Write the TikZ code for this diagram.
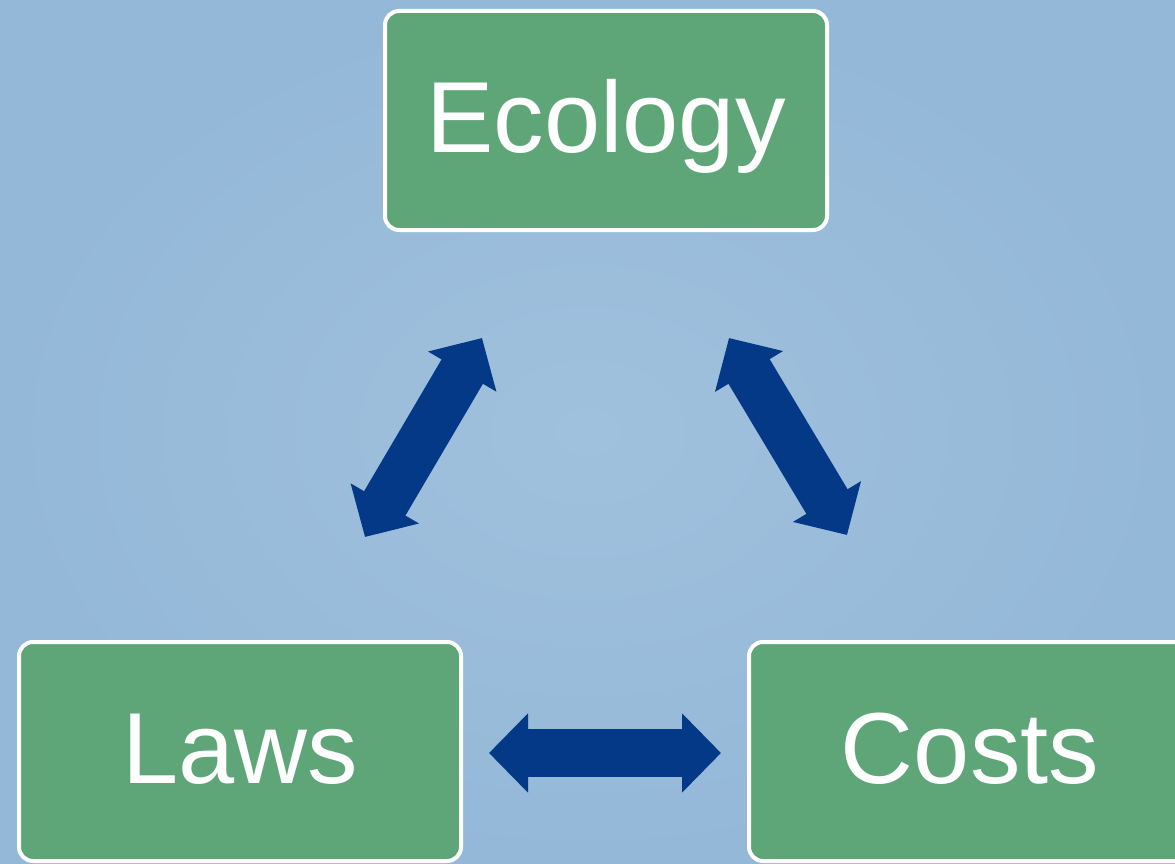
\documentclass[tikz,border=0pt]{standalone}
\usepackage{fontspec}
\setmainfont{Liberation Sans}
\usetikzlibrary{arrows.meta}
\definecolor{bgblue}{RGB}{148,184,216}
\definecolor{bglight}{RGB}{160,193,221}
\definecolor{boxgreen}{RGB}{94,165,120}
\definecolor{arrowblue}{RGB}{3,57,135}
\begin{document}
\begin{tikzpicture}[x=1pt,y=-1pt,
  box/.style={draw=white, line width=4pt, fill=boxgreen, rounded corners=14pt,
    minimum width=442pt, minimum height=219pt, inner sep=0pt, text=white,
    font=\fontsize{101}{110}\selectfont, text height=75pt, text depth=11pt},
  link/.style={draw=arrowblue, line width=48pt,
    {Triangle[length=39pt,width=77pt]}-{Triangle[length=39pt,width=77pt]}}]
\useasboundingbox (0,0) rectangle (1175,864);
\clip (0,0) rectangle (1175,864);
\shade[inner color=bglight, outer color=bgblue] (0,0) rectangle (1175,864);
\node[box] (eco) at (606,120.5) {Ecology};
\node[box] (laws) at (240,751.5) {Laws};
\node[box] (costs) at (970,751.5) {Costs};
\coordinate (hL) at (489,753);
\coordinate (hR) at (721,753);
\coordinate (lB) at (365,537);
\coordinate (lT) at (482,338);
\coordinate (rT) at (729,338);
\coordinate (rB) at (847,535);
\draw[link] (hL) -- (hR);
\draw[link] (lB) -- (lT);
\draw[link] (rT) -- (rB);
\end{tikzpicture}
\end{document}
